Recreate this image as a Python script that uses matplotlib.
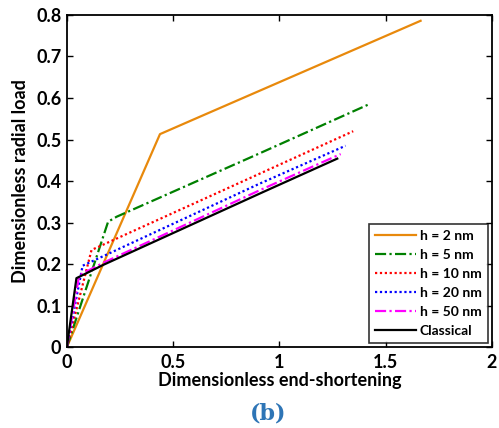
import numpy as np
import matplotlib
matplotlib.use('Agg')
import matplotlib.pyplot as plt

# Curve data (x = end-shortening, y = radial load)
x_h2 = [0, 0.438, 0.626, 1.664]
y_h2 = [0, 0.513, 0.555, 0.786]
x_h5 = [0, 0.194, 0.234, 0.908, 1.426]
y_h5 = [0, 0.302, 0.314, 0.467, 0.586]
x_h10 = [0, 0.116, 0.908, 1.347]
y_h10 = [0, 0.234, 0.418, 0.520]
x_h20 = [0, 0.074, 0.908, 1.311]
y_h20 = [0, 0.196, 0.394, 0.485]
x_h50 = [0, 0.058, 0.171, 0.908, 1.288]
y_h50 = [0, 0.173, 0.203, 0.378, 0.465]
x_cl = [0, 0.045, 0.171, 0.908, 1.272]
y_cl = [0, 0.166, 0.198, 0.370, 0.454]

labels = ['h = 2 nm', 'h = 5 nm', 'h = 10 nm', 'h = 20 nm', 'h = 50 nm', 'Classical']
xticks = [0, 0.5, 1, 1.5, 2]
xtick_labels = ['0', '0.5', '1', '1.5', '2']
yticks = [0, 0.1, 0.2, 0.3, 0.4, 0.5, 0.6, 0.7, 0.8]
ytick_labels = ['0', '0.1', '0.2', '0.3', '0.4', '0.5', '0.6', '0.7', '0.8']

plt.rcParams['font.family'] = ['Lato', 'DejaVu Sans']
plt.rcParams['font.weight'] = 'bold'

fig = plt.figure(figsize=(4.99, 4.28), dpi=100)
ax = fig.add_axes([0.134, 0.189, 0.852, 0.776])

ax.plot(x_h2, y_h2, color='#e8890c', lw=1.6, ls='-', label=labels[0])
ax.plot(x_h5, y_h5, color='#008000', lw=1.6, ls=(0, (5, 1.5, 1, 1.5)), label=labels[1])
ax.plot(x_h10, y_h10, color='#ff0000', lw=1.6, ls=(0, (1, 1.2)), label=labels[2])
ax.plot(x_h20, y_h20, color='#0000ff', lw=1.6, ls=(0, (1, 1.2)), label=labels[3])
ax.plot(x_h50, y_h50, color='#ff00ff', lw=1.6, ls=(0, (5, 1.5, 1, 1.5)), label=labels[4])
ax.plot(x_cl, y_cl, color='black', lw=1.6, ls='-', label=labels[5])

ax.set_xlim(0, 2)
ax.set_ylim(0, 0.8)
ax.set_xticks(xticks)
ax.set_xticklabels(xtick_labels)
ax.set_yticks(yticks)
ax.set_yticklabels(ytick_labels)
ax.tick_params(direction='in', top=True, right=True, labelsize=13, length=4, width=1)
ax.tick_params(axis='x', pad=5)
ax.tick_params(axis='y', pad=4)
for s in ax.spines.values():
    s.set_linewidth(1.3)

ax.set_xlabel('Dimensionless end-shortening', fontsize=13, fontweight='bold', labelpad=1)
ax.set_ylabel('Dimensionless radial load', fontsize=13, fontweight='bold', labelpad=5)

leg = ax.legend(loc='lower right', fontsize=10, frameon=True, fancybox=False,
                edgecolor='black', handlelength=2.9, handletextpad=0.3,
                labelspacing=0.5, borderaxespad=0.3, borderpad=0.45)
leg.get_frame().set_linewidth(1.2)
for t in leg.get_texts():
    t.set_fontweight('bold')

fig.text(0.538, 0.008, '(b)', ha='center', va='bottom', fontsize=16,
         fontweight='bold', color='#2e75b6', family='DejaVu Serif')

fig.savefig('out.png', dpi=100)
